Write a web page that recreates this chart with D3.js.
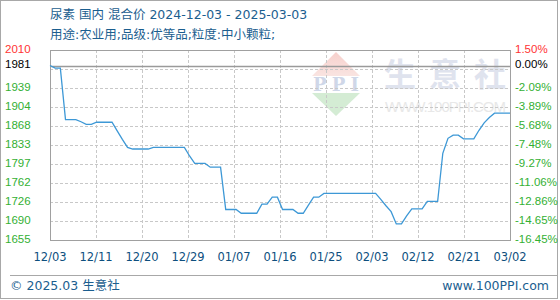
<!DOCTYPE html>
<html lang="zh">
<head>
<meta charset="UTF-8">
<title>尿素 国内 混合价</title>
<script src="https://d3js.org/d3.v7.min.js"></script>
<style>
    body { margin: 0; background: #fff; }
    svg { display: block; font-family: "DejaVu Sans", "Noto Sans CJK SC", sans-serif; }
    .grid { stroke: #c8c8c8; stroke-dasharray: 3,2; stroke-width: 1; }
    .ylab { font-family: "Liberation Sans", sans-serif; font-size: 11.5px; }
    .xlab { font-size: 11.5px; fill: #0e4f7e; font-family: "DejaVu Sans", sans-serif; }
    .title { font-size: 12.5px; fill: #1b5e8f; }
</style>
</head>
<body>
<svg width="560" height="300"></svg>
<script>
// daily values, 2024-12-03 onward
const startDate = "2024-12-03";
const prices = [
    1981, 1976, 1976, 1880, 1880, 1880, 1876, 1871, 1871, 1875,
    1875, 1875, 1875, 1859, 1843, 1828, 1825, 1825, 1825, 1825,
    1828, 1828, 1828, 1828, 1828, 1828, 1828, 1812, 1798, 1798,
    1798, 1791, 1791, 1791, 1712, 1712, 1712, 1705, 1705, 1705,
    1705, 1722, 1722, 1735, 1735, 1712, 1712, 1712, 1705, 1705,
    1720, 1735, 1735, 1742, 1742, 1742, 1742, 1742, 1742, 1742,
    1742, 1742, 1742, 1742, 1731, 1719, 1708, 1685, 1685, 1700,
    1713, 1713, 1713, 1727, 1727, 1727, 1817, 1845, 1851, 1851,
    1844, 1844, 1844, 1860, 1874, 1884, 1892, 1892, 1892, 1892
];
const basePrice = 1981;
const yMin = 1655, yMax = 2010;
const yLabels = ["1655", "1690", "1726", "1762", "1797", "1833", "1868", "1904", "1939", "", "2010"];
const pctLabels = ["-16.45%", "-14.65%", "-12.86%", "-11.06%", "-9.27%", "-7.48%", "-5.68%", "-3.89%", "-2.09%", "", "1.50%"];
const xLabels = ["12/03", "12/11", "12/20", "12/29", "01/07", "01/16", "01/25", "02/03", "02/12", "02/21", "03/02"];
const titleText = "尿素 国内 混合价 2024-12-03 - 2025-03-03";
const subText = "用途:农业用;品级:优等品;粒度:中小颗粒;";
const brandChars = ["生", "意", "社"];

const svg = d3.select("svg");
const plotL = 50, plotR = 510, plotT = 50, plotB = 240;
const nDays = 89;

const x = d3.scaleLinear().domain([0, nDays]).range([plotL, plotR]);
const y = d3.scaleLinear().domain([yMin, yMax]).range([plotB, plotT]);

// outer frame
svg.append("rect").attr("x", 0.5).attr("y", 0.5).attr("width", 557).attr("height", 298)
    .attr("fill", "none").attr("stroke", "#a8a8a8");

// titles
svg.append("text").attr("class", "title").attr("x", 50).attr("y", 19).text(titleText);
svg.append("text").attr("class", "title").attr("x", 50).attr("y", 39).text(subText);

// watermark
const wm = svg.append("g");
const pink = wm.append("defs").append("linearGradient").attr("id", "pk").attr("x1", 0).attr("y1", 0).attr("x2", 0).attr("y2", 1);
pink.append("stop").attr("offset", 0).attr("stop-color", "#f7d0cc");
pink.append("stop").attr("offset", 1).attr("stop-color", "#f9e4e1");
wm.append("path").attr("d", "M336,52 L360,76 L312,76 Z").attr("fill", "url(#pk)");
wm.append("path").attr("d", "M312,93 L360,93 L336,116 Z").attr("fill", "#d4ecd4");
wm.append("text").attr("x", 336).attr("y", 91).attr("text-anchor", "middle")
    .attr("font-family", "DejaVu Serif, serif").attr("font-weight", "bold")
    .attr("font-size", 18).attr("textLength", 46).attr("fill", "#cfd7e8").text("PPI");
wm.append("g").selectAll("text").data(brandChars).join("text")
    .attr("x", (d, i) => 400 + i * 45).attr("y", 86).attr("text-anchor", "middle")
    .attr("font-family", "Noto Sans CJK SC").attr("font-weight", "bold")
    .attr("font-size", 32).attr("fill", "#dfe3ee").text(d => d);
wm.append("text").attr("x", 385).attr("y", 112)
    .attr("font-family", "Liberation Sans, sans-serif").attr("textLength", 121)
    .attr("font-size", 15).attr("fill", "#e8e8e8").text("WWW.100PPI.COM");

// grid
const gridVals = d3.range(11).map(i => yMin + i * (yMax - yMin) / 10);
svg.append("g").selectAll("line").data(gridVals.slice(1, -1)).join("line")
    .attr("class", "grid")
    .attr("x1", plotL).attr("x2", plotR)
    .attr("y1", d => Math.round(y(d)) + 0.5).attr("y2", d => Math.round(y(d)) + 0.5);
const xTickVals = d3.range(11).map(i => i * nDays / 10);
svg.append("g").selectAll("line").data(xTickVals.slice(1, -1)).join("line")
    .attr("class", "grid")
    .attr("y1", plotT).attr("y2", plotB)
    .attr("x1", d => Math.round(x(d)) + 0.5).attr("x2", d => Math.round(x(d)) + 0.5);

// base line
svg.append("line").attr("x1", plotL).attr("x2", plotR)
    .attr("y1", Math.round(y(basePrice)) + 0.5).attr("y2", Math.round(y(basePrice)) + 0.5)
    .attr("stroke", "#9a9a9a").attr("stroke-width", 1.3);

// plot frame
svg.append("rect").attr("x", plotL + 0.5).attr("y", plotT + 0.5)
    .attr("width", plotR - plotL).attr("height", plotB - plotT)
    .attr("fill", "none").attr("stroke", "#a0a0a0");

// series
const line = d3.line().x((d, i) => x(i)).y(d => y(d));
svg.append("path").datum(prices).attr("d", line)
    .attr("fill", "none").attr("stroke", "#3d98d6").attr("stroke-width", 1.3);

// y labels
const yColor = i => i === 10 ? "#ff3333" : "#33b033";
svg.append("g").selectAll("text").data(gridVals).join("text")
    .attr("class", "ylab").attr("x", 5).attr("y", d => y(d) - 1.5).attr("dy", "0.35em")
    .attr("fill", (d, i) => yColor(i)).text((d, i) => yLabels[i]);
svg.append("g").selectAll("text").data(gridVals).join("text")
    .attr("class", "ylab").attr("x", 515).attr("y", d => y(d) - 1.5).attr("dy", "0.35em")
    .attr("fill", (d, i) => yColor(i)).text((d, i) => pctLabels[i]);
svg.append("text").attr("class", "ylab").attr("x", 5).attr("y", y(basePrice) - 1.5).attr("dy", "0.35em")
    .attr("fill", "#000").text(String(basePrice));
svg.append("text").attr("class", "ylab").attr("x", 515).attr("y", y(basePrice) - 1.5).attr("dy", "0.35em")
    .attr("fill", "#000").text("0.00%");

// x labels
svg.append("g").selectAll("text").data(xTickVals).join("text")
    .attr("class", "xlab").attr("x", d => x(d)).attr("y", 261).attr("text-anchor", "middle")
    .text((d, i) => xLabels[i]);

// footer
svg.append("line").attr("x1", 10).attr("x2", 558).attr("y1", 275.5).attr("y2", 275.5)
    .attr("stroke", "#a8a8a8");
svg.append("text").attr("class", "title").attr("x", 10).attr("y", 290).text("© 2025.03 生意社");
svg.append("text").attr("class", "title").attr("x", 549).attr("y", 290).attr("text-anchor", "end")
    .attr("font-family", "DejaVu Sans").text("www.100PPI.com");
</script>
</body>
</html>
